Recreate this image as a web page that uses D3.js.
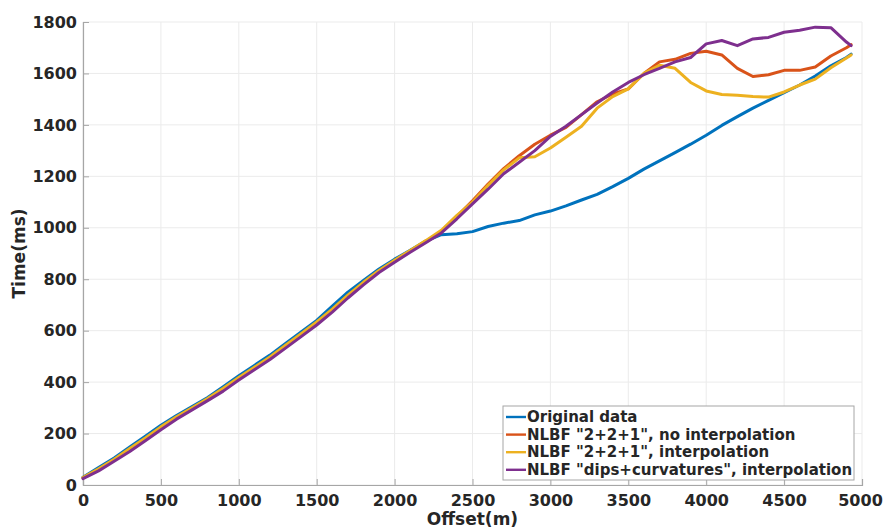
<!DOCTYPE html>
<html>
<head>
<meta charset="utf-8">
<script src="https://cdn.jsdelivr.net/npm/d3@7"></script>
<style>
  html, body { margin: 0; padding: 0; background: #fff; }
  svg { display: block; font-family: "DejaVu Sans", sans-serif; font-weight: bold; }
</style>
</head>
<body>
<svg id="chart" width="883" height="529"></svg>
<script>
// Offsets (m) shared by all curves
const offsets = [0,100,200,300,400,500,600,700,800,900,1000,1100,1200,1300,1400,1500,1600,1700,1800,1900,
  2000,2100,2200,2300,2400,2500,2600,2700,2800,2900,3000,3100,3200,3300,3400,3500,3600,3700,3800,3900,
  4000,4100,4200,4300,4400,4500,4600,4700,4800,4900,4930];

// Travel times (ms)
const originalData = [30,68,105,148,190,232,270,305,340,382,425,465,505,550,595,640,695,750,795,840,
  878,912,948,973,977,985,1005,1018,1028,1050,1065,1085,1108,1130,1160,1192,1228,1260,1292,1325,
  1360,1398,1432,1465,1495,1525,1555,1590,1630,1662,1675];

const nlbfNoInterp = [28,60,98,138,180,222,262,298,333,372,415,455,495,540,585,630,680,735,785,832,
  872,910,948,985,1045,1105,1170,1230,1280,1325,1360,1390,1440,1490,1520,1540,1600,1645,1655,1678,
  1686,1672,1620,1588,1595,1612,1612,1625,1668,1700,1712];

const nlbfInterp = [29,63,100,142,183,226,265,300,336,376,418,458,498,543,588,634,684,738,788,834,
  874,912,950,990,1048,1100,1165,1225,1272,1276,1310,1352,1395,1465,1510,1540,1600,1632,1620,1565,
  1532,1518,1515,1510,1508,1528,1555,1578,1622,1660,1672];

const nlbfDips = [25,55,92,130,172,215,256,292,328,365,408,448,488,532,577,622,672,727,778,826,
  866,905,942,980,1035,1093,1150,1210,1255,1300,1355,1395,1440,1485,1528,1565,1595,1620,1645,1662,
  1715,1728,1708,1734,1740,1760,1768,1780,1778,1722,1708];

const seriesNames = [
  "Original data",
  "NLBF \"2+2+1\", no interpolation",
  "NLBF \"2+2+1\", interpolation",
  "NLBF \"dips+curvatures\", interpolation"
];
const seriesColors = ["#0072BD", "#D95319", "#EDB120", "#7E2F8E"];
const xTicks = [0,500,1000,1500,2000,2500,3000,3500,4000,4500,5000];
const yTicks = [0,200,400,600,800,1000,1200,1400,1600,1800];

const series = [originalData, nlbfNoInterp, nlbfInterp, nlbfDips];

const svg = d3.select("#chart");
const margin = {left: 83, right: 21, top: 22, bottom: 44};
const W = 883, H = 529;
const x = d3.scaleLinear().domain([0, 5000]).range([margin.left, W - margin.right]);
const y = d3.scaleLinear().domain([0, 1800]).range([H - margin.bottom, margin.top]);

// grid
const grid = svg.append("g");
grid.selectAll("line.gx").data(xTicks).join("line")
  .attr("x1", d => x(d)).attr("x2", d => x(d))
  .attr("y1", y(0)).attr("y2", y(1800))
  .attr("stroke", "#ebebeb").attr("stroke-width", 1);
grid.selectAll("line.gy").data(yTicks).join("line")
  .attr("x1", x(0)).attr("x2", x(5000))
  .attr("y1", d => y(d)).attr("y2", d => y(d))
  .attr("stroke", "#ebebeb").attr("stroke-width", 1);

// axes
const xAxis = d3.axisBottom(x).tickValues(xTicks).tickSize(-6).tickPadding(10).tickFormat(d3.format("d"));
const yAxis = d3.axisLeft(y).tickValues(yTicks).tickSize(-6).tickPadding(6).tickFormat(d3.format("d"));

const gx = svg.append("g").attr("transform", `translate(0,${y(0)})`).call(xAxis);
const gy = svg.append("g").attr("transform", `translate(${x(0)},0)`).call(yAxis);
[gx, gy].forEach(g => {
  g.select(".domain").attr("stroke", "#a6a6a6").attr("stroke-width", 1.2);
  g.selectAll(".tick line").attr("stroke", "#a6a6a6");
  g.selectAll(".tick text").attr("fill", "#262626")
    .style("font-size", "16px").style("font-weight", "bold")
    .style("font-family", "'DejaVu Sans', sans-serif");
});
// keep the last x label inside the page
gx.selectAll(".tick text").filter(d => d === 5000).attr("dx", -2);

// lines
const line = d3.line().x((d, i) => x(offsets[i])).y(d => y(d));
svg.append("g").selectAll("path").data(series).join("path")
  .attr("d", line)
  .attr("fill", "none")
  .attr("stroke", (d, i) => seriesColors[i])
  .attr("stroke-width", 3)
  .attr("stroke-linejoin", "round")
  .attr("stroke-linecap", "round");

// axis titles
svg.append("text")
  .attr("x", (x(0) + x(5000)) / 2).attr("y", 525)
  .attr("text-anchor", "middle").attr("fill", "#262626")
  .style("font-size", "17px").text("Offset(m)");
svg.append("text")
  .attr("transform", `translate(25,${(y(0) + y(1800)) / 2}) rotate(-90)`)
  .attr("text-anchor", "middle").attr("fill", "#262626")
  .style("font-size", "17px").text("Time(ms)");

// legend
const lg = svg.append("g").attr("transform", "translate(503,406)");
lg.append("rect").attr("width", 351).attr("height", 74)
  .attr("fill", "#fff").attr("stroke", "#a6a6a6").attr("stroke-width", 1);
const rows = lg.selectAll("g.row").data(seriesNames).join("g")
  .attr("transform", (d, i) => `translate(0,${11 + i * 17.6})`);
rows.append("line").attr("x1", 3).attr("x2", 23).attr("y1", 0).attr("y2", 0)
  .attr("stroke", (d, i) => seriesColors[i]).attr("stroke-width", 2.4);
rows.append("text").attr("x", 24).attr("y", 5)
  .attr("fill", "#262626").style("font-size", "15px").text(d => d);
</script>
</body>
</html>
